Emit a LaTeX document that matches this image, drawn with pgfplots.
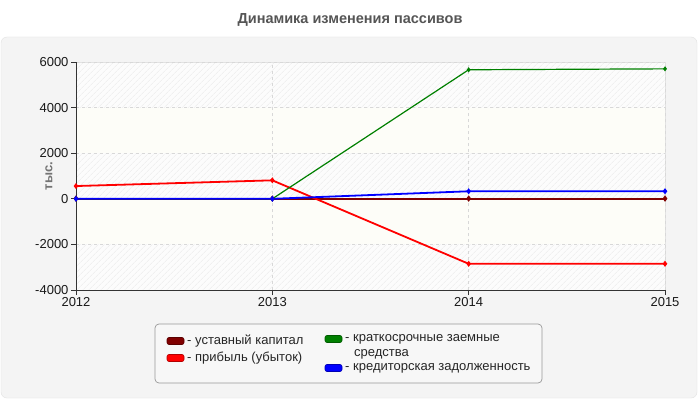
\documentclass[border=0pt]{standalone}
\usepackage{fontspec}
\setmainfont{Liberation Sans}
\usepackage{pgfplots}
\pgfplotsset{compat=1.18}
\usetikzlibrary{patterns.meta}
\definecolor{panelbg}{HTML}{F4F4F4}
\definecolor{panelbd}{HTML}{E2E2E2}
\definecolor{creamband}{HTML}{FDFDF8}
\definecolor{hatchbg}{HTML}{FCFCFC}
\definecolor{hatchln}{HTML}{EBEBEB}
\definecolor{gridc}{HTML}{D8D8D8}
\definecolor{ustav}{HTML}{800000}
\definecolor{pribyl}{HTML}{FF0000}
\definecolor{kratk}{HTML}{008000}
\definecolor{kredit}{HTML}{0000FF}
\definecolor{titlec}{HTML}{555555}

\begin{document}
\begin{tikzpicture}[x=1pt,y=1pt]
% canvas and panel
\path[fill=white] (0,0) rectangle (700,400);
\draw[panelbd, fill=panelbg, rounded corners=6pt] (1,2) rectangle (697,363);
% title
\node[font=\fontsize{14.5}{16}\selectfont\bfseries, text=titlec] at (350,380) {Динамика изменения пассивов};
% y label
\node[font=\fontsize{13}{15}\selectfont\bfseries, text=black!55, rotate=90] at (49,224) {тыс.};
% plot area background: hatched and cream bands
\fill[hatchbg] (76,110) rectangle (665,338);
\fill[pattern={Lines[angle=45,distance=4pt,line width=0.6pt]}, pattern color=hatchln] (76,110) rectangle (665,338);
\fill[creamband] (76,246.8) rectangle (665,292.4);
\fill[creamband] (76,155.6) rectangle (665,201.2);
\draw[panelbd, line width=0.8pt] (76,338) -- (665,338) -- (665,110);

\begin{axis}[
    scale only axis,
    width=589pt, height=228pt,
    at={(76pt,110pt)}, anchor=south west,
    xmin=2012, xmax=2015,
    ymin=-4000, ymax=6000,
    xtick={2012,2013,2014,2015},
    ytick={-4000,-2000,0,2000,4000,6000},
    xticklabels={2012,2013,2014,2015},
    yticklabels={-4000,-2000,0,2000,4000,6000},
    axis lines=left,
    axis line style={-, draw=black!80, line width=0.8pt},
    tick align=outside,
    major tick length=5pt,
    tick style={black!80, line width=0.8pt},
    grid=major,
    grid style={dashed, gridc, line width=0.6pt},
    tick label style={font=\fontsize{13}{15}\selectfont, text=black!90},
    yticklabel style={xshift=1pt},
    xticklabel style={yshift=1pt},
    clip=false,
]
\addplot[ustav, line width=2pt, mark=diamond*, mark size=1.6pt] coordinates {
    (2012,10) (2013,10) (2014,10) (2015,10)
};
\addplot[pribyl, line width=1.8pt, mark=diamond*, mark size=1.6pt] coordinates {
    (2012,560) (2013,810) (2014,-2850) (2015,-2850)
};
\addplot[kratk, line width=1.2pt, mark=diamond*, mark size=1.6pt] coordinates {
    (2012,0) (2013,0) (2014,5660) (2015,5700)
};
\addplot[kredit, line width=1.8pt, mark=diamond*, mark size=1.6pt] coordinates {
    (2012,0) (2013,0) (2014,330) (2015,330)
};
\end{axis}

% legend
\draw[black!40, fill=white!97!black, rounded corners=4pt, line width=0.7pt] (155,17) rectangle (542,76);
\begin{scope}[every node/.style={font=\fontsize{13}{15}\selectfont, text=black!85, anchor=west, inner sep=0pt}]
\draw[ustav!70!black, fill=ustav, rounded corners=2pt, line width=0.6pt] (167,55.5) rectangle (184,62.5);
\node at (187,59) {- уставный капитал};
\draw[pribyl!70!black, fill=pribyl, rounded corners=2pt, line width=0.6pt] (167,38.5) rectangle (184,45.5);
\node at (187,42) {- прибыль (убыток)};
\draw[kratk!70!black, fill=kratk, rounded corners=2pt, line width=0.6pt] (325,57.5) rectangle (342,64.5);
\node at (345,61) {- краткосрочные заемные};
\node at (354,46) {средства};
\draw[kredit!70!black, fill=kredit, rounded corners=2pt, line width=0.6pt] (325,28.5) rectangle (342,35.5);
\node at (345,32) {- кредиторская задолженность};
\end{scope}
\end{tikzpicture}
\end{document}
